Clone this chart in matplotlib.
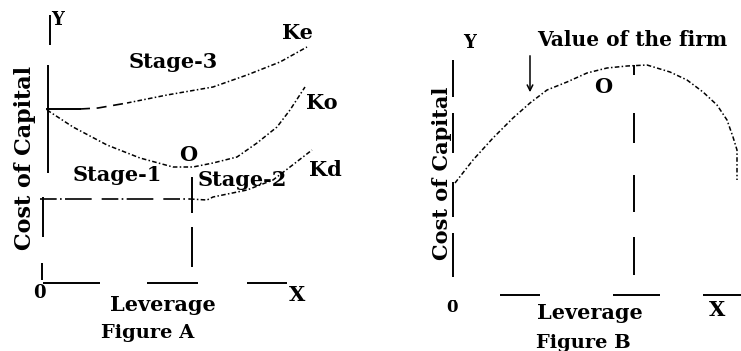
import matplotlib
matplotlib.use("Agg")
import matplotlib.pyplot as plt

plt.rcParams['font.family'] = ['DejaVu Serif']
plt.rcParams['font.weight'] = 'bold'

# ---------------- Figure A data (leverage units, cost units) ----------------
ke_x = [2, 35, 53, 82, 122, 168, 202, 235, 262]
ke_y = [174, 174, 175, 180, 188, 196, 208, 221, 236]
ko_x = [2, 28, 62, 95, 128, 148, 168, 192, 212, 232, 245, 260]
ko_y = [173, 156, 138, 125, 116, 116, 120, 126, 140, 156, 173, 196]
kd_x = [-5, 145, 162, 168, 202, 228, 245, 267]
kd_y = [84, 84, 83, 86, 93, 103, 116, 133]
a_optimum = 147
a_labels = {"Ke": (252, 250), "Ko": (277, 180), "Kd": (280, 113)}
a_stages = {"Stage-1": (72, 108), "Stage-2": (197, 103), "Stage-3": (128, 221)}

# ---------------- Figure B data ----------------
v_x = [2, 20, 40, 60, 77, 94, 114, 134, 154, 174, 194, 217, 234, 250, 264, 274, 280, 284, 284]
v_y = [112, 135, 157, 177, 192, 205, 213, 222, 227, 229, 230, 223, 215, 203, 190, 175, 158, 145, 115]
b_optimum = 181

fig = plt.figure(figsize=(7.41, 3.51), dpi=100)
fig.patch.set_facecolor("white")

axA = fig.add_axes([0, 0, 370 / 741, 1])
axA.set_xlim(-45, 325)
axA.set_ylim(-68, 283)
axB = fig.add_axes([370 / 741, 0, 371 / 741, 1])
axB.set_xlim(-83, 288)
axB.set_ylim(-56, 295)
for ax in (axA, axB):
    ax.axis("off")

k = "black"
seg = dict(color=k, lw=1.4, solid_capstyle="butt")
curve = dict(color=k, lw=1.1, linestyle=(0, (3, 1.5, 1, 1.5)))
fs = 15

# ---- Panel A ----
# broken Y axis
for (x0, x1), (y0, y1) in [((5, 5), (238, 268)), ((3, 3), (110, 218)),
                           ((-2, -2), (46, 86)), ((-3, -3), (3, 20))]:
    axA.plot([x0, x1], [y0, y1], **seg)
# broken X axis
for x0, x1 in [(-2, 55), (102, 153), (202, 242)]:
    axA.plot([x0, x1], [0, 0], **seg)
# optimum vertical
for y0, y1 in [(70, 106), (16, 56)]:
    axA.plot([a_optimum, a_optimum], [y0, y1], **seg)

axA.plot(ke_x[:2], ke_y[:2], color=k, lw=1.4)
axA.plot(ke_x[1:4], ke_y[1:4], color=k, lw=1.2, linestyle=(0, (6, 4)))
axA.plot(ke_x[3:], ke_y[3:], **curve)
axA.plot(ko_x, ko_y, **curve)
axA.plot(kd_x[:2], kd_y[:2], color=k, lw=1.2, linestyle=(0, (10, 2, 1, 2, 16, 6)))
axA.plot(kd_x[1:], kd_y[1:], **curve)

for t, (x, y) in a_labels.items():
    axA.text(x, y, t, fontsize=fs, ha="center", va="center")
for t, (x, y) in a_stages.items():
    axA.text(x, y, t, fontsize=fs, ha="center", va="center")
axA.text(143, 128, "O", fontsize=fs, ha="center", va="center")
axA.text(13, 263, "Y", fontsize=fs - 2, ha="center", va="center")
axA.text(-6, -10, "0", fontsize=fs - 2, ha="center", va="center")
axA.text(252, -12, "X", fontsize=fs, ha="center", va="center")
axA.text(-20, 125, "Cost of Capital", fontsize=fs + 1, rotation=90,
         ha="center", va="center")
axA.text(118, -22, "Leverage", fontsize=fs, ha="center", va="center")
axA.text(103, -50, "Figure A", fontsize=fs - 1, ha="center", va="center")

# ---- Panel B ----
for y0, y1 in [(198, 235), (142, 182), (78, 113), (18, 62)]:
    axB.plot([0, 0], [y0, y1], **seg)
for x0, x1 in [(47, 87), (160, 207), (250, 290)]:
    axB.plot([x0, x1], [0, 0], **seg)
for y0, y1 in [(220, 230), (152, 182), (83, 120), (20, 58)]:
    axB.plot([b_optimum, b_optimum], [y0, y1], **seg)
axB.plot(v_x, v_y, **curve)
axB.annotate("", xy=(77, 200), xytext=(77, 242),
             arrowprops=dict(arrowstyle="->", color=k, lw=1.1))
axB.text(84, 255, "Value of the firm", fontsize=fs - 0.5, ha="left", va="center")
axB.text(150, 208, "O", fontsize=fs, ha="center", va="center")
axB.text(17, 252, "Y", fontsize=fs - 2, ha="center", va="center")
axB.text(-1, -12, "0\u0304", fontsize=fs - 3, ha="center", va="center")
axB.text(264, -15, "X", fontsize=fs, ha="center", va="center")
axB.text(-11, 122, "Cost of Capital", fontsize=fs, rotation=90,
         ha="center", va="center")
axB.text(137, -18, "Leverage", fontsize=fs, ha="center", va="center")
axB.text(130, -48, "Figure B", fontsize=fs - 1, ha="center", va="center")

fig.savefig("out.png", dpi=100, facecolor="white")
